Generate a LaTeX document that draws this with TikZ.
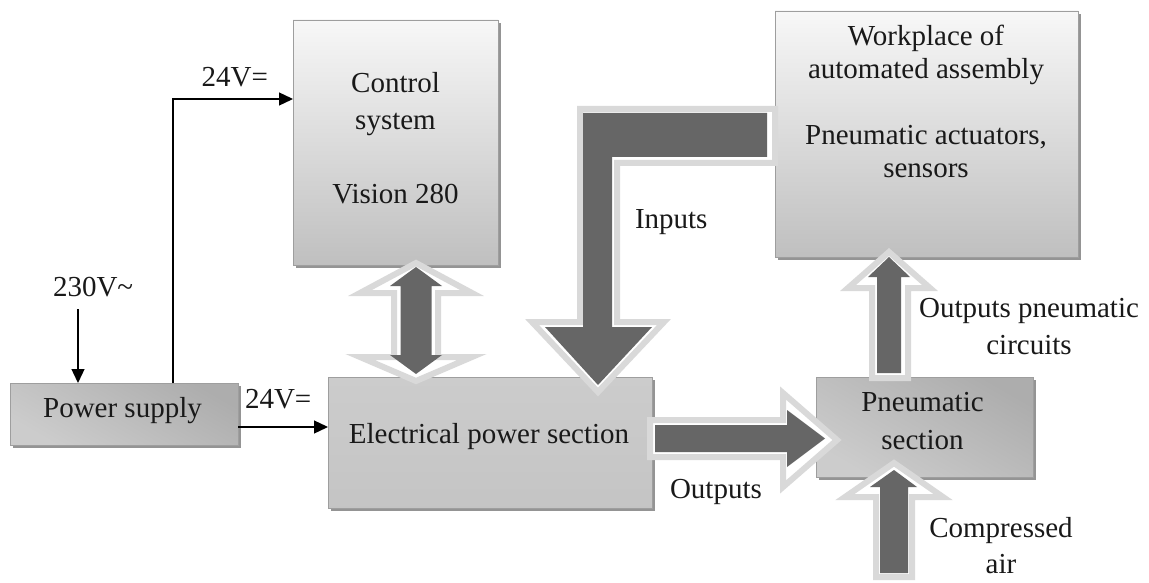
\documentclass[tikz,border=0pt]{standalone}
\usepackage{fontspec}
\setmainfont{Liberation Serif}
\usetikzlibrary{arrows.meta,calc,shadows}
\definecolor{arrdark}{gray}{0.40}
\definecolor{arrlight}{gray}{0.85}
\definecolor{edgegray}{gray}{0.62}
\definecolor{shadgray}{gray}{0.58}
\begin{document}
\begin{tikzpicture}[x=1pt,y=-1pt,
  every node/.style={inner sep=0pt, outer sep=0pt},
  txt/.style={font=\rmfamily\fontsize{29}{36}\selectfont, align=center, text=black!90},
  box/.style={rectangle, draw=edgegray, line width=0.8pt,
    drop shadow={shadow xshift=3pt, shadow yshift=-3pt, fill=shadgray, opacity=1}},
  vgrad/.style={top color=white!97!black, bottom color=black!25},
  egrad/.style={top color=black!20, middle color=black!35, bottom color=black!23},
  dgrad/.style={top color=black!32, middle color=black!4, bottom color=black!20, shading angle=-30},
  conn/.style={line width=1.3pt, -{Triangle[length=14pt,width=13pt]}},
  lightarr/.style={draw=arrlight, line width=6pt, fill=white, line join=miter},
  darkarr/.style={fill=arrdark}
]
\useasboundingbox (0,0) rectangle (1149,583);
\fill[white] (0,0) rectangle (1149,583);

% boxes
\node[box, dgrad, minimum width=228pt, minimum height=62pt] (ps) at (124,414) {};
\node[box, vgrad, minimum width=205pt, minimum height=245pt] (ctrl) at (395.5,142.5) {};
\node[box, egrad, minimum width=324pt, minimum height=131pt] (elec) at (490,442.5) {};
\node[box, vgrad, minimum width=303pt, minimum height=246pt] (work) at (926.5,134) {};
\node[box, dgrad, minimum width=217pt, minimum height=100pt] (pneu) at (924.5,427) {};

% box texts
\node[txt, anchor=base] (psT) at (122.5,417) {Power supply};
\node[txt, anchor=north, font=\rmfamily\fontsize{29}{37}\selectfont] (ctrlT) at (395.5,72.2) {Control\\system\\[37pt]Vision 280};
\node[txt, anchor=base] (elecT) at (489,443) {Electrical power section};
\node[txt, anchor=north, font=\rmfamily\fontsize{29}{33}\selectfont] (workT) at (926,25.2) {Workplace of\\automated assembly\\[33pt]Pneumatic actuators,\\sensors};
\node[txt, anchor=north, font=\rmfamily\fontsize{29}{38}\selectfont] (pneuT) at (922.5,392.2) {Pneumatic\\section};

% labels
\node[txt, anchor=base west] (v230) at (53,296) {230V\char`~};
\node[txt, anchor=base east] (v24a) at (268,87) {24V=};
\node[txt, anchor=base west] (v24b) at (245,408) {24V=};
\node[txt, anchor=base west] (inp) at (635,228) {Inputs};
\node[txt, anchor=base west] (outp) at (670,498) {Outputs};
\node[txt, anchor=north, font=\rmfamily\fontsize{29}{37}\selectfont] (outpn) at (1029,298.2) {Outputs pneumatic\\circuits};
\node[txt, anchor=north, font=\rmfamily\fontsize{29}{36}\selectfont] (air) at (1001,517.2) {Compressed\\air};

% thin connectors
\draw[conn] ($(ps.north west)+(68,-74)$) -- ($(ps.north west)+(68,0)$);
\draw[conn] ($(ps.north west)+(163,0)$) |- ($(ctrl.north west)+(0,79)$);
\draw[conn] ($(ps.south east)+(0,-18)$) -- ($(elec.north west)+(0,50)$);

% double arrow control <-> electrical
\path[lightarr] (416,263) -- (472,293) -- (438,293) -- (438,357) -- (472,357) -- (416,381)
  -- (360,357) -- (394,357) -- (394,293) -- (360,293) -- cycle;
\path[darkarr] (416,267) -- (442,286) -- (431.5,286) -- (431.5,355) -- (442,355) -- (416,374)
  -- (390,355) -- (400.5,355) -- (400.5,286) -- (390,286) -- cycle;

% inputs bent arrow
\path[lightarr] (775,109) -- (580,109) -- (580,322) -- (532,322) -- (598,392) -- (664,322)
  -- (617,322) -- (617,163) -- (775,163) -- cycle;
\path[darkarr] (767,113) -- (583,113) -- (583,327) -- (545,327) -- (598,385) -- (652,327)
  -- (612,327) -- (612,157) -- (767,157) -- cycle;

% outputs arrow
\path[lightarr] (650,420) -- (783,420) -- (783,393) -- (837,440) -- (783,487) -- (783,457)
  -- (650,457) -- cycle;
\path[darkarr] (655,425) -- (787,425) -- (787,410) -- (825,438.5) -- (787,467) -- (787,452)
  -- (655,452) -- cycle;

% outputs pneumatic circuits arrow
\path[lightarr] (889,252) -- (930,288) -- (908,288) -- (908,378) -- (872,378) -- (872,288)
  -- (848,288) -- cycle;
\path[darkarr] (889,257) -- (910,277) -- (901,277) -- (901,373) -- (877,373) -- (877,277)
  -- (868,277) -- cycle;

% compressed air arrow
\path[lightarr] (894,463) -- (943,497) -- (912,497) -- (912,577) -- (876,577) -- (876,497)
  -- (845,497) -- cycle;
\path[darkarr] (894,470) -- (917,487) -- (908,487) -- (908,573) -- (880,573) -- (880,487)
  -- (870,487) -- cycle;
\end{tikzpicture}
\end{document}
